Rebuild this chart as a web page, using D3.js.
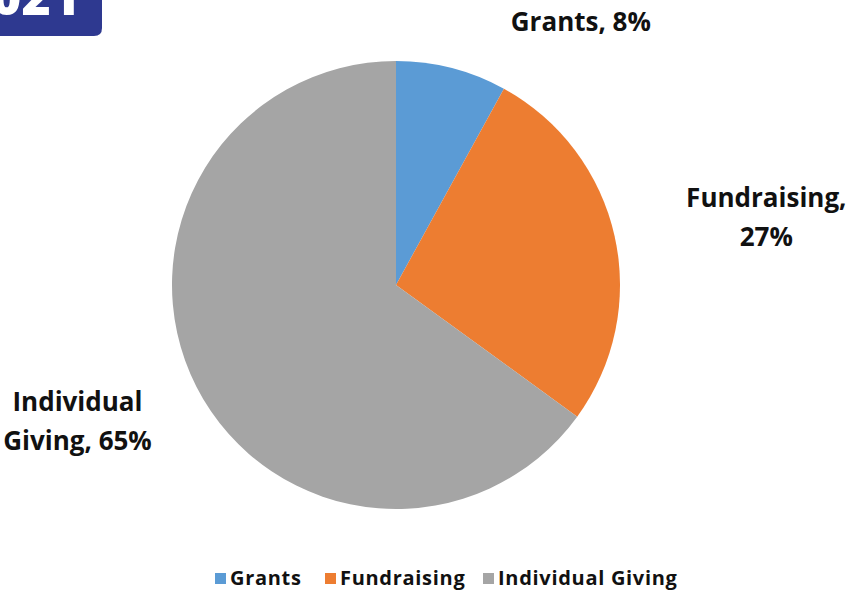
<!DOCTYPE html>
<html>
<head>
<meta charset="utf-8">
<script src="https://cdn.jsdelivr.net/npm/d3@7"></script>
<style>
  body { margin: 0; background: #fff; }
  svg { display: block; }
  text { font-family: 'Open Sans', 'Noto Sans', sans-serif; font-weight: bold; fill: #111; }
</style>
</head>
<body>
<div id="chart"></div>
<script>
const categories = ['Grants', 'Fundraising', 'Individual Giving'];
const shares = [8, 27, 65];
const label_lines = [['Grants, 8%'], ['Fundraising,', '27%'], ['Individual', 'Giving, 65%']];
const colors = ['#5b9bd5', '#ed7d31', '#a5a5a5'];
const badge_text = '2021';

const svg_width = 855;
const svg_height = 596;
const center = {x: 396, y: 285};
const radius = 224;

const svg = d3.select('#chart').append('svg')
    .attr('width', svg_width)
    .attr('height', svg_height);

// Year badge, cropped at the top-left corner
svg.append('path')
    .attr('d', 'M-10,-10 H102 V28 Q102,36 94,36 H-10 Z')
    .attr('fill', '#2e3990');
svg.append('text')
    .attr('x', 80)
    .attr('y', 15)
    .attr('text-anchor', 'end')
    .style('font-size', '50px')
    .style('font-weight', 900)
    .style('fill', '#fff')
    .text(badge_text);

const slices = categories.map((c, i) => ({category: c, value: shares[i], lines: label_lines[i], color: colors[i]}));

const pie = d3.pie().sort(null).value(d => d.value);
const arc = d3.arc().innerRadius(0).outerRadius(radius);

const g = svg.append('g')
    .attr('transform', `translate(${center.x},${center.y})`);

const arcs = pie(slices);

g.selectAll('path.slice')
    .data(arcs)
    .enter()
    .append('path')
    .attr('class', 'slice')
    .attr('d', arc)
    .attr('fill', d => d.data.color);

// Data labels outside the pie; the anchor points follow the slice angles
const label_arc = d3.arc().innerRadius(radius * 1.2).outerRadius(radius * 1.2);
const label_shift = [[118, 6], [108, 0], [-79, 23]];
const line_height = 39;

arcs.forEach((d, i) => {
    const [cx, cy] = label_arc.centroid(d);
    const x = cx + label_shift[i][0];
    const y0 = cy + label_shift[i][1];
    const t = g.append('text')
        .attr('text-anchor', 'middle')
        .style('font-size', '26px');
    d.data.lines.forEach((line, j) => {
        t.append('tspan')
            .attr('x', x)
            .attr('y', y0 - (d.data.lines.length - 1) * line_height / 2 + j * line_height)
            .text(line);
    });
});

// Legend
const legend = svg.append('g').attr('transform', 'translate(0,578)');
const legend_x = d3.scaleOrdinal().domain(categories).range([215, 325, 483]);
const items = legend.selectAll('g.item')
    .data(slices)
    .enter()
    .append('g')
    .attr('class', 'item')
    .attr('transform', d => `translate(${legend_x(d.category)},0)`);
items.append('rect')
    .attr('x', 0)
    .attr('y', -5)
    .attr('width', 11)
    .attr('height', 11)
    .attr('fill', d => d.color);
items.append('text')
    .attr('x', 15)
    .attr('y', 7)
    .style('font-size', '20px')
    .style('letter-spacing', '0.7px')
    .text(d => d.category);
</script>
</body>
</html>
